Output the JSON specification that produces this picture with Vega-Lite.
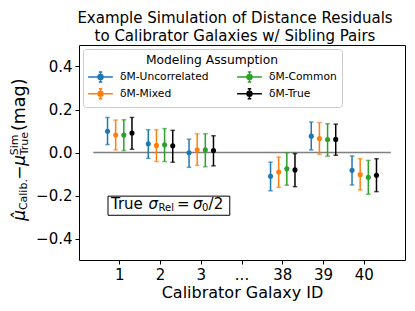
{
  "$schema": "https://vega.github.io/schema/vega-lite/v6.json",
  "autosize": {"type": "none"},
  "padding": {"left": 79, "top": 45, "right": 10, "bottom": 51},
  "width": 326,
  "height": 215,
  "background": "white",
  "config": {
    "font": "DejaVu Sans",
    "view": {"stroke": "#000000", "strokeWidth": 1},
    "axis": {"labelColor": "#000000", "tickColor": "#000000", "domainColor": "#000000", "titleColor": "#000000", "titleFontWeight": "normal", "grid": false, "labelFont": "DejaVu Sans", "titleFont": "DejaVu Sans"}
  },
  "title": {
    "text": ["Example Simulation of Distance Residuals", "to Calibrator Galaxies w/ Sibling Pairs"],
    "fontSize": 15,
    "fontWeight": "normal",
    "font": "DejaVu Sans",
    "color": "#000000",
    "anchor": "middle",
    "frame": "group",
    "lineHeight": 18.5,
    "offset": 1,
    "dx": -7
  },
  "datasets": {
    "res": [
      {"g": "1", "m": "δM-Uncorrelated", "mu": 0.099, "lo": 0.037, "hi": 0.163},
      {"g": "1", "m": "δM-Mixed", "mu": 0.081, "lo": 0.012, "hi": 0.151},
      {"g": "1", "m": "δM-Common", "mu": 0.081, "lo": 0.009, "hi": 0.152},
      {"g": "1", "m": "δM-True", "mu": 0.091, "lo": 0.015, "hi": 0.163},
      {"g": "2", "m": "δM-Uncorrelated", "mu": 0.041, "lo": -0.027, "hi": 0.106},
      {"g": "2", "m": "δM-Mixed", "mu": 0.033, "lo": -0.042, "hi": 0.106},
      {"g": "2", "m": "δM-Common", "mu": 0.036, "lo": -0.042, "hi": 0.111},
      {"g": "2", "m": "δM-True", "mu": 0.031, "lo": -0.045, "hi": 0.103},
      {"g": "3", "m": "δM-Uncorrelated", "mu": -0.001, "lo": -0.069, "hi": 0.062},
      {"g": "3", "m": "δM-Mixed", "mu": 0.013, "lo": -0.060, "hi": 0.087},
      {"g": "3", "m": "δM-Common", "mu": 0.012, "lo": -0.066, "hi": 0.087},
      {"g": "3", "m": "δM-True", "mu": 0.009, "lo": -0.062, "hi": 0.078},
      {"g": "38", "m": "δM-Uncorrelated", "mu": -0.111, "lo": -0.178, "hi": -0.045},
      {"g": "38", "m": "δM-Mixed", "mu": -0.091, "lo": -0.162, "hi": -0.021},
      {"g": "38", "m": "δM-Common", "mu": -0.076, "lo": -0.152, "hi": -0.001},
      {"g": "38", "m": "δM-True", "mu": -0.081, "lo": -0.159, "hi": -0.005},
      {"g": "39", "m": "δM-Uncorrelated", "mu": 0.076, "lo": 0.012, "hi": 0.142},
      {"g": "39", "m": "δM-Mixed", "mu": 0.065, "lo": -0.009, "hi": 0.139},
      {"g": "39", "m": "δM-Common", "mu": 0.060, "lo": -0.017, "hi": 0.134},
      {"g": "39", "m": "δM-True", "mu": 0.061, "lo": -0.013, "hi": 0.132},
      {"g": "40", "m": "δM-Uncorrelated", "mu": -0.083, "lo": -0.151, "hi": -0.016},
      {"g": "40", "m": "δM-Mixed", "mu": -0.103, "lo": -0.174, "hi": -0.029},
      {"g": "40", "m": "δM-Common", "mu": -0.115, "lo": -0.194, "hi": -0.037},
      {"g": "40", "m": "δM-True", "mu": -0.106, "lo": -0.182, "hi": -0.029}
    ],
    "one": [{"note": "annotation"}]
  },
  "layer": [
    {
      "data": {"name": "one"},
      "mark": {"type": "rule", "color": "#808080", "strokeWidth": 1.5},
      "encoding": {
        "x": {"datum": 0.35, "type": "quantitative", "scale": {"domain": [0, 8]}, "axis": null},
        "x2": {"datum": 7.65},
        "y": {"datum": 0, "type": "quantitative", "scale": {"domain": [-0.429, 0.425]}, "title": null}
      }
    },
    {
      "data": {"name": "res"},
      "encoding": {
        "x": {
          "field": "g", "type": "ordinal",
          "scale": {"domain": ["1", "2", "3", "...", "38", "39", "40"], "paddingInner": 0, "paddingOuter": 0.5},
          "axis": {"title": "Calibrator Galaxy ID", "labelAngle": 0, "labelFontSize": 15, "titleFontSize": 16, "tickSize": 4, "labelPadding": 3, "titlePadding": 2, "domain": false}
        },
        "xOffset": {
          "field": "m", "type": "nominal",
          "scale": {"domain": ["δM-Uncorrelated", "δM-Mixed", "δM-Common", "δM-True"], "paddingInner": 0, "paddingOuter": 0.5}
        },
        "color": {
          "field": "m", "type": "nominal",
          "scale": {"domain": ["δM-Uncorrelated", "δM-Mixed", "δM-Common", "δM-True"], "range": ["#1f77b4", "#ff7f0e", "#2ca02c", "#000000"]},
          "legend": {
            "title": "Modeling Assumption",
            "orient": "top-left",
            "offset": 4,
            "columns": 2,
            "titleAnchor": "middle",
            "titleFontSize": 12.3,
            "titleFontWeight": "normal",
            "titleColor": "#000000",
            "titlePadding": 3,
            "labelFontSize": 10.7,
            "labelColor": "#000000",
            "labelOffset": 12,
            "symbolOffset": 5,
            "symbolSize": 169,
            "rowPadding": 0,
            "columnPadding": 25,
            "padding": 5,
            "fillColor": "rgba(255,255,255,0.8)",
            "strokeColor": "#cccccc",
            "cornerRadius": 3,
            "encode": {
              "symbols": {
                "update": {
                  "shape": {"value": "M-1.9,0H1.9M0,-0.77V0.77M-0.27,-0.77H0.27M-0.27,0.77H0.27M0.38,0A0.38,0.38,0,1,1,-0.38,0A0.38,0.38,0,1,1,0.38,0Z"},
                  "fill": {"scale": "color", "field": "value"},
                  "stroke": {"scale": "color", "field": "value"},
                  "strokeWidth": {"value": 1.5},
                  "opacity": {"value": 1},
                  "fillOpacity": {"value": 1}
                }
              }
            }
          }
        }
      },
      "layer": [
        {
          "mark": {"type": "rule", "strokeWidth": 1.5},
          "encoding": {
            "y": {"field": "lo", "type": "quantitative", "title": null, "scale": {"domain": [-0.429, 0.425]},
                  "axis": {"values": [-0.4, -0.2, 0, 0.2, 0.4], "format": ".1f", "labelFontSize": 15, "tickSize": 4, "labelPadding": 3, "domain": false, "title": null}},
            "y2": {"field": "hi"}
          }
        },
        {
          "mark": {"type": "tick", "thickness": 1.5, "size": 4.5},
          "encoding": {"y": {"field": "lo", "type": "quantitative", "title": null}}
        },
        {
          "mark": {"type": "tick", "thickness": 1.5, "size": 4.5},
          "encoding": {"y": {"field": "hi", "type": "quantitative", "title": null}}
        },
        {
          "mark": {"type": "point", "filled": true, "size": 26, "opacity": 1},
          "encoding": {"y": {"field": "mu", "type": "quantitative", "title": null}}
        }
      ]
    },
    {
      "data": {"name": "one"},
      "layer": [
        {
          "mark": {"type": "rect", "fill": "white", "stroke": "#000000", "strokeWidth": 1},
          "encoding": {
            "x": {"datum": 0.712, "type": "quantitative", "scale": {"domain": [0, 8]}, "axis": null},
            "x2": {"datum": 3.7},
            "y": {"datum": -0.203, "type": "quantitative", "title": null},
            "y2": {"datum": -0.292}
          }
        },
        {"mark": {"type": "text", "text": "True", "fontSize": 15, "align": "left", "baseline": "alphabetic", "color": "#000000"},
         "encoding": {"x": {"datum": 0.785, "type": "quantitative"}, "y": {"datum": -0.2625, "type": "quantitative"}}},
        {"mark": {"type": "text", "text": "σ", "fontSize": 15, "fontStyle": "italic", "align": "left", "baseline": "alphabetic", "color": "#000000"},
         "encoding": {"x": {"datum": 1.705, "type": "quantitative"}, "y": {"datum": -0.2625, "type": "quantitative"}}},
        {"mark": {"type": "text", "text": "Rel", "fontSize": 10, "align": "left", "baseline": "alphabetic", "color": "#000000"},
         "encoding": {"x": {"datum": 1.951, "type": "quantitative"}, "y": {"datum": -0.274, "type": "quantitative"}}},
        {"mark": {"type": "text", "text": "=", "fontSize": 15, "align": "left", "baseline": "alphabetic", "color": "#000000"},
         "encoding": {"x": {"datum": 2.405, "type": "quantitative"}, "y": {"datum": -0.2625, "type": "quantitative"}}},
        {"mark": {"type": "text", "text": "σ", "fontSize": 15, "fontStyle": "italic", "align": "left", "baseline": "alphabetic", "color": "#000000"},
         "encoding": {"x": {"datum": 2.8, "type": "quantitative"}, "y": {"datum": -0.2625, "type": "quantitative"}}},
        {"mark": {"type": "text", "text": "0", "fontSize": 10, "align": "left", "baseline": "alphabetic", "color": "#000000"},
         "encoding": {"x": {"datum": 3.02, "type": "quantitative"}, "y": {"datum": -0.274, "type": "quantitative"}}},
        {"mark": {"type": "text", "text": "/2", "fontSize": 15, "align": "left", "baseline": "alphabetic", "color": "#000000"},
         "encoding": {"x": {"datum": 3.18, "type": "quantitative"}, "y": {"datum": -0.2625, "type": "quantitative"}}},
        {"mark": {"type": "text", "text": "μ̂", "fontSize": 17, "fontStyle": "italic", "angle": 270, "align": "left", "baseline": "alphabetic", "color": "#000000"},
         "encoding": {"x": {"datum": -1.337, "type": "quantitative"}, "y": {"datum": -0.318, "type": "quantitative"}}},
        {"mark": {"type": "text", "text": "Calib.", "fontSize": 11, "angle": 270, "align": "left", "baseline": "alphabetic", "color": "#000000"},
         "encoding": {"x": {"datum": -1.276, "type": "quantitative"}, "y": {"datum": -0.268, "type": "quantitative"}}},
        {"mark": {"type": "text", "text": "−", "fontSize": 17, "angle": 270, "align": "left", "baseline": "alphabetic", "color": "#000000"},
         "encoding": {"x": {"datum": -1.337, "type": "quantitative"}, "y": {"datum": -0.127, "type": "quantitative"}}},
        {"mark": {"type": "text", "text": "μ", "fontSize": 17, "fontStyle": "italic", "angle": 270, "align": "left", "baseline": "alphabetic", "color": "#000000"},
         "encoding": {"x": {"datum": -1.337, "type": "quantitative"}, "y": {"datum": -0.062, "type": "quantitative"}}},
        {"mark": {"type": "text", "text": "Sim", "fontSize": 11, "angle": 270, "align": "left", "baseline": "alphabetic", "color": "#000000"},
         "encoding": {"x": {"datum": -1.485, "type": "quantitative"}, "y": {"datum": -0.013, "type": "quantitative"}}},
        {"mark": {"type": "text", "text": "True", "fontSize": 11, "angle": 270, "align": "left", "baseline": "alphabetic", "color": "#000000"},
         "encoding": {"x": {"datum": -1.252, "type": "quantitative"}, "y": {"datum": -0.013, "type": "quantitative"}}},
        {"mark": {"type": "text", "text": "(mag)", "fontSize": 17.5, "angle": 270, "align": "left", "baseline": "alphabetic", "color": "#000000"},
         "encoding": {"x": {"datum": -1.337, "type": "quantitative"}, "y": {"datum": 0.1, "type": "quantitative"}}}
      ]
    }
  ],
  "resolve": {"scale": {"x": "independent"}}
}
